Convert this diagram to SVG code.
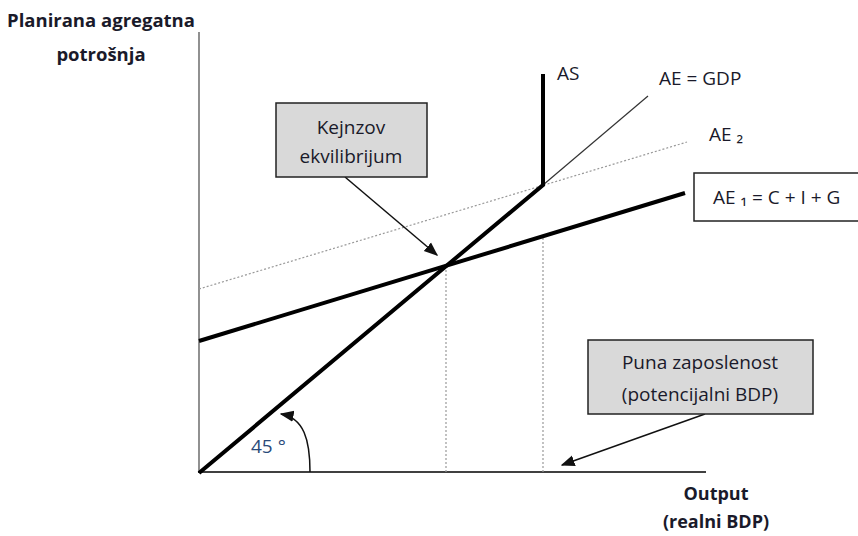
<svg xmlns="http://www.w3.org/2000/svg" width="858" height="536" viewBox="0 0 858 536">
<defs>
<style>
text{font-family:"Open Sans","Liberation Sans",sans-serif;font-size:19px;fill:#1a1a2a}
.b{font-weight:bold;font-size:18.5px}
.c{text-anchor:middle}
.box{fill:#d9d9d9;stroke:#222;stroke-width:1.5}
.thick{stroke:#000;stroke-width:4;fill:none;stroke-linecap:butt}
.dot{stroke:#999;stroke-width:1.2;stroke-dasharray:2 2;fill:none}
.ptr{stroke:#111;stroke-width:1.5;fill:none}
</style>
<marker id="ah2" viewBox="0 0 10 10" refX="9" refY="5" markerWidth="14" markerHeight="14" markerUnits="userSpaceOnUse" orient="auto"><path d="M0,1 L10,5 L0,9 z" fill="#111"/></marker>
</defs>
<g id="axes">
<line x1="199" y1="32" x2="199" y2="473" stroke="#555" stroke-width="1.3"/>
<line x1="198" y1="472" x2="706" y2="472" stroke="#000" stroke-width="1.5"/>
</g>
<g id="connectors">
<line class="dot" x1="199" y1="289" x2="687" y2="142"/>
<line x1="543" y1="185" x2="648" y2="96" stroke="#333" stroke-width="1.2"/>
<line class="dot" x1="446" y1="266" x2="446" y2="472"/>
<line class="dot" x1="543" y1="238" x2="543" y2="472"/>
<line class="thick" x1="199" y1="341" x2="685" y2="193"/>
<polyline class="thick" points="199,473 543,185 543,74"/>
<line class="ptr" x1="345" y1="177" x2="437" y2="255" marker-end="url(#ah2)"/>
<line class="ptr" x1="705" y1="414" x2="562" y2="465" marker-end="url(#ah2)"/>
<path class="ptr" d="M310,472 C310,440 304,418 281,414" marker-end="url(#ah2)"/>
</g>
<g id="ylabel"><text class="b c" x="101" y="27">Planirana agregatna</text><text class="b c" x="101" y="61">potrošnja</text></g>
<g id="xlabel"><text class="b c" x="716" y="500" style="font-size:18px">Output</text><text class="b c" x="716" y="528" style="font-size:18px">(realni BDP)</text></g>
<g id="as"><text x="557" y="80">AS</text></g>
<g id="aegdp"><text x="659" y="85">AE = GDP</text></g>
<g id="ae2"><text x="709" y="141">AE ₂</text></g>
<g id="ae1"><rect x="694" y="173" width="170" height="48" fill="#fff" stroke="#222" stroke-width="1.5"/><text x="713" y="204">AE ₁ = C + I + G</text></g>
<g id="kejnzov"><rect class="box" x="276" y="103" width="151" height="74"/><text class="c" x="351" y="134">Kejnzov</text><text class="c" x="351" y="163">ekvilibrijum</text></g>
<g id="puna"><rect class="box" x="588" y="340" width="225" height="74"/><text class="c" x="700" y="369">Puna zaposlenost</text><text class="c" x="700" y="401">(potencijalni BDP)</text></g>
<g id="angle"><text x="251" y="453" style="fill:#2a4a7a">45 °</text></g>
</svg>
